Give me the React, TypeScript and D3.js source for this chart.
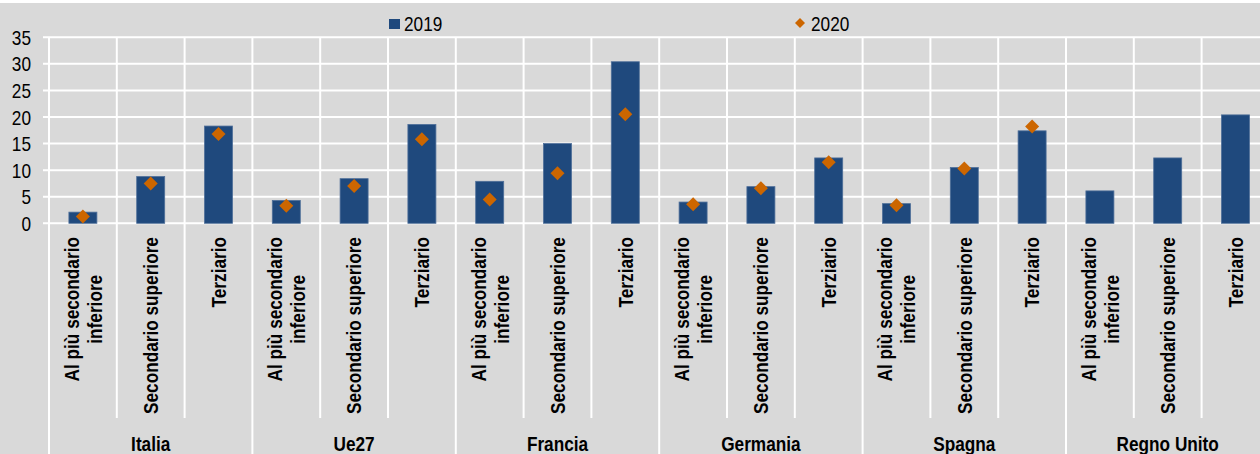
import * as d3 from 'd3'
import React, { useEffect, useRef } from 'react'

const countries = ['Italia', 'Ue27', 'Francia', 'Germania', 'Spagna', 'Regno Unito']
const levels = [['Al più secondario', 'inferiore'], ['Secondario superiore'], ['Terziario']]
const values2019 = [2.1, 8.8, 18.3, 4.3, 8.4, 18.6, 7.9, 15.0, 30.4, 4.0, 6.9, 12.3, 3.7, 10.5, 17.4, 6.1, 12.3, 20.4]
const values2020 = [1.3, 7.5, 16.8, 3.3, 7.0, 15.8, 4.5, 9.4, 20.5, 3.6, 6.6, 11.5, 3.4, 10.3, 18.2, null, null, null]
const yTicks = [0, 5, 10, 15, 20, 25, 30, 35]
const seriesNames = ['2019', '2020']

const width = 1260
const height = 454
// no narrow font installed, so squeeze a regular sans horizontally
const font = '"Liberation Sans", Arial, sans-serif'
const squeeze = 0.82
const bg = '#d9d9d9'
const barColor = '#1f497d'
const dotColor = '#cc6600'

const App: React.FC = () => {
  const ref = useRef<SVGSVGElement>(null)

  useEffect(() => {
    const svg = d3.select(ref.current)
    svg.selectAll('*').remove()

    const data = values2019.map((v, i) => ({
      key: `${countries[Math.floor(i / 3)]}-${i % 3}`,
      country: countries[Math.floor(i / 3)],
      lines: levels[i % 3],
      v2019: v,
      v2020: values2020[i],
    }))

    const x = d3
      .scaleBand()
      .domain(data.map((d) => d.key))
      .range([49, 49 + 67.8 * data.length])
    const y = d3.scaleLinear().domain([0, 35]).range([223.3, 37.3])

    svg.append('rect').attr('width', width).attr('height', height).attr('fill', bg)
    svg.append('rect').attr('width', width).attr('height', 3).attr('fill', '#fff')

    // horizontal gridlines
    svg
      .append('g')
      .selectAll('line')
      .data(yTicks)
      .enter()
      .append('line')
      .attr('x1', 43)
      .attr('x2', width)
      .attr('y1', (d) => y(d))
      .attr('y2', (d) => y(d))
      .attr('stroke', '#fff')
      .attr('stroke-width', 2)

    // vertical separators
    const bounds = d3.range(data.length + 1)
    svg
      .append('g')
      .selectAll('line')
      .data(bounds)
      .enter()
      .append('line')
      .attr('x1', (i) => 49 + x.step() * i)
      .attr('x2', (i) => 49 + x.step() * i)
      .attr('y1', y(35))
      .attr('y2', (i) => (i % 3 === 0 ? height : 418))
      .attr('stroke', '#fff')
      .attr('stroke-width', 2)

    // y tick labels
    svg
      .append('g')
      .selectAll('text')
      .data(yTicks)
      .enter()
      .append('text')
      .attr('transform', (d) => `translate(31,${y(d)}) scale(${squeeze},1)`)
      .attr('dy', '0.36em')
      .attr('text-anchor', 'end')
      .attr('font-family', font)
      .attr('font-size', 21)
      .attr('fill', '#000')
      .text((d) => d)

    const bw = 28
    svg
      .append('g')
      .selectAll('rect')
      .data(data)
      .enter()
      .append('rect')
      .attr('x', (d) => (x(d.key) || 0) + x.bandwidth() / 2 - bw / 2)
      .attr('width', bw)
      .attr('y', (d) => y(d.v2019))
      .attr('height', (d) => y(0) - y(d.v2019))
      .attr('fill', barColor)
      .attr('stroke', '#4f6f99')
      .attr('stroke-width', 0.8)

    const diamond = d3.symbol(d3.symbolSquare, 98)
    svg
      .append('g')
      .selectAll('path')
      .data(data.filter((d) => d.v2020 !== null))
      .enter()
      .append('path')
      .attr('d', diamond)
      .attr(
        'transform',
        (d) => `translate(${(x(d.key) || 0) + x.bandwidth() / 2},${y(d.v2020 as number)}) rotate(45)`
      )
      .attr('fill', dotColor)

    // category labels (rotated)
    const lineGap = 23
    const labels = svg
      .append('g')
      .selectAll('g')
      .data(data)
      .enter()
      .append('g')
      .attr('font-family', font)
      .attr('font-size', 21)
      .attr('font-weight', 'bold')
      .attr('fill', '#000')
    labels.each(function (d) {
      const g = d3.select(this)
      const cx = (x(d.key) || 0) + x.bandwidth() / 2
      const n = d.lines.length
      const texts = d.lines.map((t) =>
        g.append('text').attr('text-anchor', 'middle').attr('dy', '0.35em').text(t)
      )
      const maxLen =
        (d3.max(texts, (t) => (t.node() as SVGTextElement).getComputedTextLength()) || 0) * squeeze
      const cy = 237 + maxLen / 2
      texts.forEach((t, j) => {
        const lx = cx + (j - (n - 1) / 2) * lineGap
        t.attr('transform', `translate(${lx},${cy}) rotate(-90) scale(${squeeze},1)`)
      })
    })

    // country labels
    svg
      .append('g')
      .selectAll('text')
      .data(countries)
      .enter()
      .append('text')
      .attr('transform', (d, i) => `translate(${49 + x.step() * (i * 3 + 1.5)},451) scale(${squeeze},1)`)
      .attr('text-anchor', 'middle')
      .attr('font-family', font)
      .attr('font-size', 21)
      .attr('font-weight', 'bold')
      .attr('fill', '#000')
      .text((d) => d)

    // legend
    const legend = svg.append('g').attr('font-family', font).attr('font-size', 21).attr('fill', '#000')
    legend.append('rect').attr('x', 389).attr('y', 19).attr('width', 11).attr('height', 10).attr('fill', barColor)
    legend.append('text').attr('transform', `translate(404,31) scale(${squeeze},1)`).text(seriesNames[0])
    legend
      .append('path')
      .attr('d', d3.symbol(d3.symbolSquare, 50)())
      .attr('transform', 'translate(800,23) rotate(45)')
      .attr('fill', dotColor)
    legend.append('text').attr('transform', `translate(811,31) scale(${squeeze},1)`).text(seriesNames[1])
  }, [])

  return (
    <div style={{ position: 'absolute', left: 0, top: 0, width, height, overflow: 'hidden' }}>
      <svg ref={ref} width={width} height={height} style={{ display: 'block' }} />
    </div>
  )
}

export default App
